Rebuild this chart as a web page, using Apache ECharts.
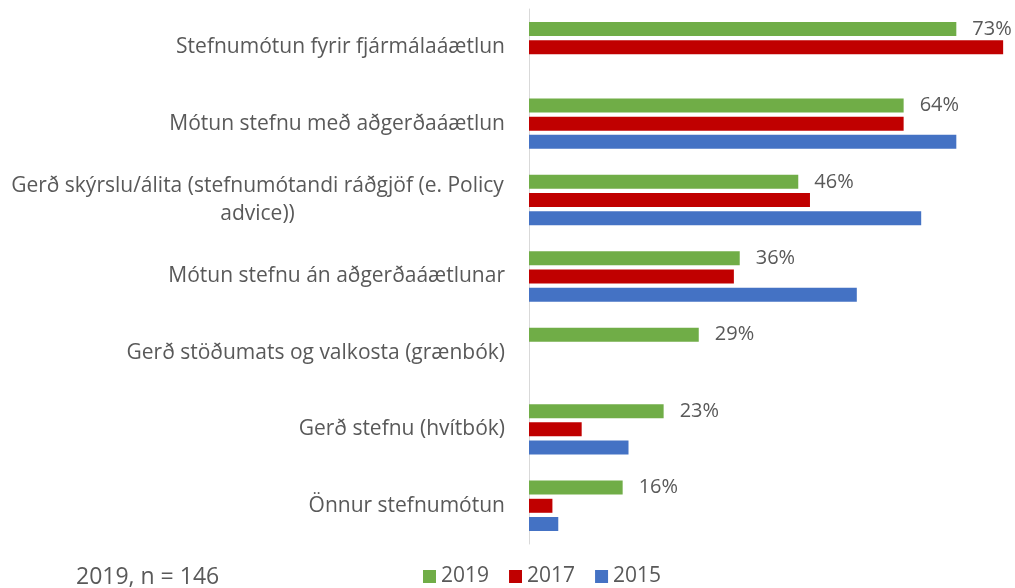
<!DOCTYPE html>
<html>
<head>
<meta charset="utf-8">
<script src="https://cdn.jsdelivr.net/npm/echarts@6/dist/echarts.min.js"></script>
<style>
  html, body { margin: 0; padding: 0; background: #fff; }
  #main { width: 1015px; height: 588px; }
</style>
</head>
<body>
<div id="main"></div>
<script>
// flokkar (efst til neðst)
const categories = [
    'Stefnumótun fyrir fjármálaáætlun',
    'Mótun stefnu með aðgerðaáætlun',
    'Gerð skýrslu/álita (stefnumótandi ráðgjöf (e. Policy advice))',
    'Mótun stefnu án aðgerðaáætlunar',
    'Gerð stöðumats og valkosta (grænbók)',
    'Gerð stefnu (hvítbók)',
    'Önnur stefnumótun'
];
const years = ['2019', '2017', '2015'];
const values2019 = [73, 64, 46, 36, 29, 23, 16];
const values2017 = [81, 64, 48, 35, null, 9, 4];
const values2015 = [null, 73, 67, 56, null, 17, 5];
const colors = ['#70AD47', '#C00000', '#4472C4'];

const font = 'Open Sans, sans-serif';
const grey = '#595959';

let myChart = echarts.init(document.getElementById('main'));

const barBase = {
    type: 'bar',
    barWidth: 14,
    barGap: '30%',
    barCategoryGap: '33%'
};

// langur texti brotinn í tvær línur, miðjaðar
function wrapLabel(v) {
    if (v.length <= 45) return v;
    const i = v.lastIndexOf(' ', 52);
    return '{w|' + v.slice(0, i) + '}\n{w|' + v.slice(i + 1) + '}';
}

option = {
    backgroundColor: '#fff',
    color: colors,
    textStyle: { fontFamily: font },
    grid: {
        left: 529,
        right: 6,
        top: 9,
        bottom: 44
    },
    legend: {
        data: years,
        left: 418,
        top: 561,
        itemWidth: 13,
        itemHeight: 13,
        itemGap: 20,
        icon: 'rect',
        textStyle: { color: grey, fontSize: 21, fontFamily: font }
    },
    graphic: [{
        type: 'text',
        left: 76,
        top: 566,
        style: {
            text: '2019, n = 146',
            fill: grey,
            font: '23px ' + font
        }
    }],
    xAxis: {
        type: 'value',
        min: 0,
        max: 82,
        show: false
    },
    yAxis: {
        type: 'category',
        data: categories,
        inverse: true,
        axisLine: { lineStyle: { color: '#D9D9D9', width: 1 } },
        axisTick: { show: false },
        axisLabel: {
            color: grey,
            fontSize: 21,
            margin: 24,
            formatter: wrapLabel,
            rich: {
                w: {
                    width: 495,
                    align: 'center',
                    color: grey,
                    fontSize: 21,
                    fontFamily: font,
                    lineHeight: 28
                }
            }
        }
    },
    series: [
        Object.assign({}, barBase, {
            name: years[0],
            data: values2019,
            label: {
                show: true,
                position: 'right',
                distance: 16,
                formatter: '{c}%',
                color: grey,
                fontSize: 20
            }
        }),
        Object.assign({}, barBase, { name: years[1], data: values2017 }),
        Object.assign({}, barBase, { name: years[2], data: values2015 })
    ]
};

myChart.setOption(option);
</script>
</body>
</html>
